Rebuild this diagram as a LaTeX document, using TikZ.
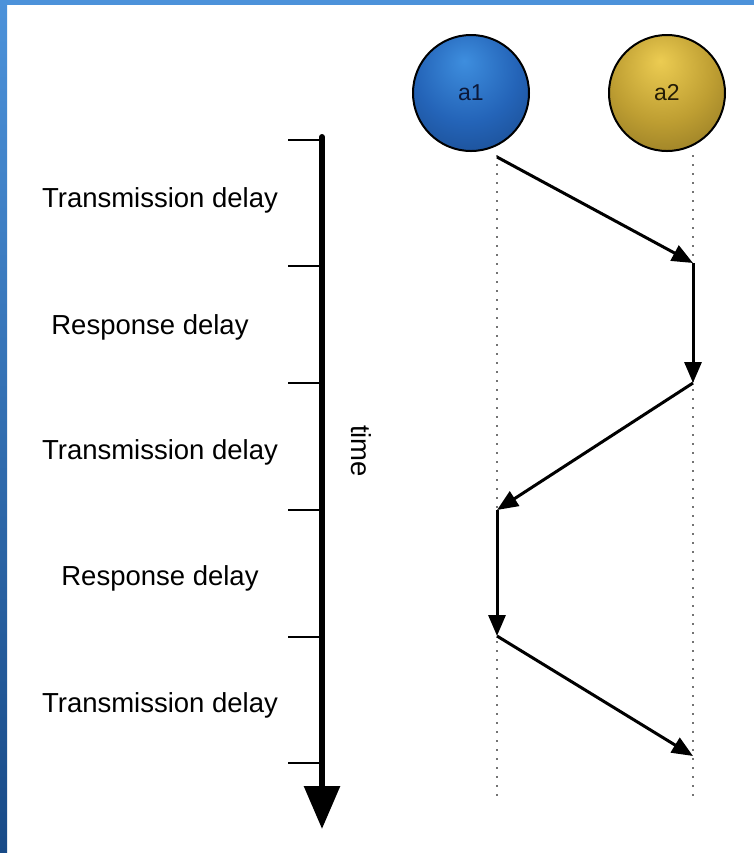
\documentclass[tikz,border=0pt]{standalone}
\usepackage{fontspec}
\setmainfont{Liberation Sans}
\usetikzlibrary{arrows.meta}
\definecolor{bdtop}{RGB}{76,146,218}
\definecolor{bdbot}{RGB}{24,74,135}
\definecolor{blueA}{RGB}{62,142,222}
\definecolor{blueB}{RGB}{36,100,184}
\definecolor{blueC}{RGB}{20,60,118}
\definecolor{goldA}{RGB}{236,204,82}
\definecolor{goldB}{RGB}{190,158,50}
\definecolor{goldC}{RGB}{118,96,26}
\definecolor{atextA}{RGB}{12,24,56}
\definecolor{atextB}{RGB}{36,28,6}
\pgfdeclareradialshading{blueball}{\pgfpoint{-3bp}{14bp}}{color(0bp)=(blueA); color(22bp)=(blueB); color(50bp)=(blueC); color(70bp)=(blueC)}
\pgfdeclareradialshading{goldball}{\pgfpoint{-3bp}{14bp}}{color(0bp)=(goldA); color(22bp)=(goldB); color(50bp)=(goldC); color(70bp)=(goldC)}
\tikzset{
  actor/.style={circle, draw=black, line width=1pt, minimum size=58pt, inner sep=0pt, font=\fontsize{11.5}{13}\selectfont},
  lbl/.style={font=\fontsize{13.75}{16}\selectfont, inner sep=0pt},
  msg/.style={line width=1.5pt, -{Triangle[length=10.5pt,width=8.5pt]}},
  tick/.style={line width=0.75pt},
  life/.style={black!55, line width=1pt, dash pattern=on 1pt off 3.5pt},
}
\begin{document}
\begin{tikzpicture}[x=0.5pt,y=-0.5pt]
\path[use as bounding box, fill=white] (0,0) rectangle (754,853);
\shade[top color=bdtop, bottom color=bdbot] (0,0) rectangle (7,853);
\fill[bdtop] (0,0) rectangle (754,5);

% actors
\node[actor, shading=blueball, text=atextA] (a1) at (471,93) {a1};
\node[actor, shading=goldball, text=atextB] (a2) at (667,93) {a2};

% lifeline points
\coordinate (l1t) at (497,155);
\coordinate (l1b) at (497,797);
\coordinate (l2t) at (693,155);
\coordinate (l2b) at (693,797);
\draw[life] (l1t) -- (l1b);
\draw[life] (l2t) -- (l2b);

% events
\coordinate (e0) at (497,157);
\coordinate (e1) at (693,263);
\coordinate (e2) at (693,383);
\coordinate (e3) at (497,510);
\coordinate (e4) at (497,636);
\coordinate (e5) at (693,756);
\draw[msg] (e0) -- (e1);
\draw[msg] (e1) -- (e2);
\draw[msg] (e2) -- (e3);
\draw[msg] (e3) -- (e4);
\draw[msg] (e4) -- (e5);

% time axis
\coordinate (tt) at (322,137);
\coordinate (tb) at (322,829);
\draw[line width=3pt, line cap=round, -{Triangle[length=21.5pt,width=17.5pt]}] (tt) -- (tb);
\foreach \y/\n in {140/t0,266/t1,383/t2,510/t3,637/t4,763/t5}{
  \coordinate (\n) at (322,\y);
  \coordinate (\n l) at (288,\y);
  \draw[tick] (\n l) -- (\n);
}
\node[lbl, rotate=-90] (time) at (361,451) {time};

% labels
\node[lbl] (d1) at (160,200) {Transmission delay};
\node[lbl] (d2) at (150,327) {Response delay};
\node[lbl] (d3) at (160,452) {Transmission delay};
\node[lbl] (d4) at (160,578) {Response delay};
\node[lbl] (d5) at (160,705) {Transmission delay};
\end{tikzpicture}
\end{document}
